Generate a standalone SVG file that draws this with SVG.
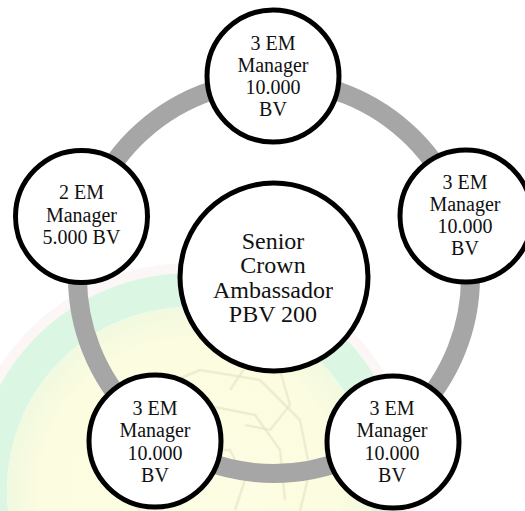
<svg xmlns="http://www.w3.org/2000/svg" width="525" height="511" viewBox="0 0 525 511">
<style>
.node{fill:#fff;stroke:#000;stroke-width:5}
.wm{fill:none;stroke:#e6e3c4;stroke-width:2.5;stroke-linejoin:round;opacity:0.6}
</style>
<defs>
<radialGradient id="yel" cx="190" cy="490" r="185" gradientUnits="userSpaceOnUse">
<stop offset="0" stop-color="#fdfde4"/>
<stop offset="0.8" stop-color="#fcfce0"/>
<stop offset="1" stop-color="#f0f9e0"/>
</radialGradient>
</defs>
<rect width="525" height="511" fill="#fff"/>
<g id="watermark">
<circle cx="190" cy="490" r="222" fill="none" stroke="#fdf6f6" stroke-width="10"/>
<circle cx="190" cy="490" r="200" fill="none" stroke="#dbf6e3" stroke-width="34"/>
<circle cx="190" cy="490" r="183" fill="url(#yel)"/>
<polyline class="wm" points="120,480 110,440 140,395 200,370 260,380 300,420 310,470 300,511"/>
<polyline class="wm" points="140,511 125,480 150,430 205,405 255,415 280,450 285,500"/>
<polyline class="wm" points="230,390 250,360 280,370 290,405 270,430 245,425"/>
<polyline class="wm" points="170,480 190,450 230,450 245,480 235,510"/>
</g>
<g id="connectors">
<circle cx="274" cy="277" r="196.5" fill="none" stroke="#a6a6a6" stroke-width="19"/>
</g>
<g id="center">
<circle class="node" cx="274" cy="277" r="94"/>
<text font-family="Liberation Serif" font-size="24" fill="#111" text-anchor="middle" x="273" y="249">Senior</text>
<text font-family="Liberation Serif" font-size="24" fill="#111" text-anchor="middle" x="273" y="273">Crown</text>
<text font-family="Liberation Serif" font-size="24" fill="#111" text-anchor="middle" x="273" y="297.5">Ambassador</text>
<text font-family="Liberation Serif" font-size="24" fill="#111" text-anchor="middle" x="273" y="321.5">PBV 200</text>
</g>
<g id="node-top">
<circle class="node" cx="273" cy="76" r="66"/>
<text font-family="Liberation Serif" font-size="20" fill="#111" text-anchor="middle" x="273" y="50">3 EM</text>
<text font-family="Liberation Serif" font-size="20" fill="#111" text-anchor="middle" x="273" y="72">Manager</text>
<text font-family="Liberation Serif" font-size="20" fill="#111" text-anchor="middle" x="273" y="94">10.000</text>
<text font-family="Liberation Serif" font-size="20" fill="#111" text-anchor="middle" x="273" y="116">BV</text>
</g>
<g id="node-right">
<circle class="node" cx="466" cy="216" r="66"/>
<text font-family="Liberation Serif" font-size="20" fill="#111" text-anchor="middle" x="465" y="189">3 EM</text>
<text font-family="Liberation Serif" font-size="20" fill="#111" text-anchor="middle" x="465" y="211">Manager</text>
<text font-family="Liberation Serif" font-size="20" fill="#111" text-anchor="middle" x="465" y="233">10.000</text>
<text font-family="Liberation Serif" font-size="20" fill="#111" text-anchor="middle" x="465" y="255">BV</text>
</g>
<g id="node-left">
<circle class="node" cx="81.5" cy="216.5" r="66"/>
<text font-family="Liberation Serif" font-size="20" fill="#111" text-anchor="middle" x="81.5" y="199">2 EM</text>
<text font-family="Liberation Serif" font-size="20" fill="#111" text-anchor="middle" x="81.5" y="221.5">Manager</text>
<text font-family="Liberation Serif" font-size="20" fill="#111" text-anchor="middle" x="81.5" y="244">5.000 BV</text>
</g>
<g id="node-bottom-left">
<circle class="node" cx="155" cy="441" r="66"/>
<text font-family="Liberation Serif" font-size="20" fill="#111" text-anchor="middle" x="155" y="415">3 EM</text>
<text font-family="Liberation Serif" font-size="20" fill="#111" text-anchor="middle" x="155" y="437">Manager</text>
<text font-family="Liberation Serif" font-size="20" fill="#111" text-anchor="middle" x="155" y="459.5">10.000</text>
<text font-family="Liberation Serif" font-size="20" fill="#111" text-anchor="middle" x="155" y="481.5">BV</text>
</g>
<g id="node-bottom-right">
<circle class="node" cx="393" cy="442" r="66"/>
<text font-family="Liberation Serif" font-size="20" fill="#111" text-anchor="middle" x="392" y="415">3 EM</text>
<text font-family="Liberation Serif" font-size="20" fill="#111" text-anchor="middle" x="392" y="437">Manager</text>
<text font-family="Liberation Serif" font-size="20" fill="#111" text-anchor="middle" x="392" y="459.5">10.000</text>
<text font-family="Liberation Serif" font-size="20" fill="#111" text-anchor="middle" x="392" y="481.5">BV</text>
</g>
</svg>
